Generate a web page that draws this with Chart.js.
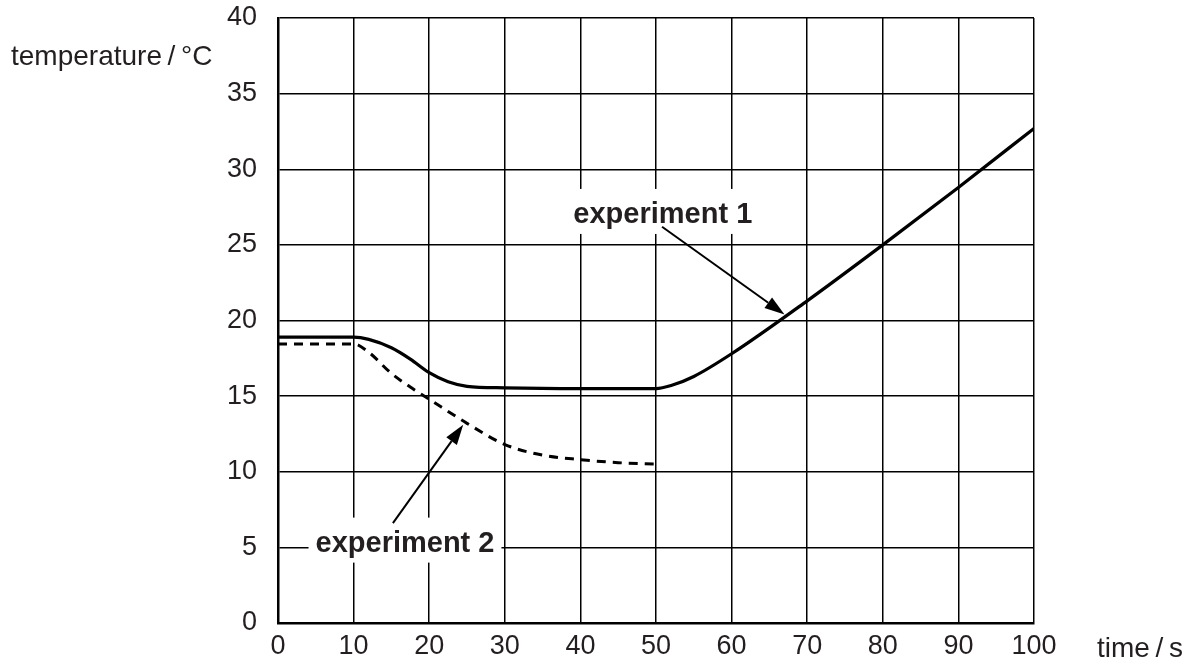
<!DOCTYPE html>
<html>
<head>
<meta charset="utf-8">
<script src="https://cdn.jsdelivr.net/npm/chart.js@4/dist/chart.umd.min.js"></script>
<style>
  html, body { margin: 0; padding: 0; background: #fff; }
  #wrap { width: 1191px; height: 663px; }
</style>
</head>
<body>
<div id="wrap"><canvas id="chart"></canvas></div>
<script>
// time / s
const exp1Time = [0, 10, 12, 15, 17.5, 20, 22.5, 25, 30, 40, 50, 52, 55, 60, 70, 80, 90, 100];
const exp1Temp = [18.9, 18.9, 18.75, 18.2, 17.45, 16.55, 15.95, 15.65, 15.55, 15.5, 15.5, 15.7, 16.3, 17.8, 21.3, 25.0, 28.8, 32.7];
const exp2Time = [0, 10, 12, 15, 17.5, 20, 25, 30, 35, 40, 45, 50];
const exp2Temp = [18.45, 18.45, 17.9, 16.5, 15.6, 14.8, 13.2, 11.8, 11.1, 10.8, 10.6, 10.5];
const xTicks = [0, 10, 20, 30, 40, 50, 60, 70, 80, 90, 100];
const yTicks = [0, 5, 10, 15, 20, 25, 30, 35, 40];

// labels with arrows, in data units: text centre/baseline, arrow start, arrow tip
const notes = [
    { text: "experiment 1", at: [50.9, 26.45], from: [50.8, 26.2], to: [67.0, 20.4] },
    { text: "experiment 2", at: [16.8, 4.72], from: [15.2, 6.6], to: [24.5, 13.1] }
];

const FONT = "'Liberation Sans', Arial, Helvetica, sans-serif";

const toPts = (xs, ys) => xs.map((x, i) => ({ x, y: ys[i] }));

const notesPlugin = {
    id: 'notes',
    afterDatasetsDraw(chart) {
        const ctx = chart.ctx;
        const sx = chart.scales.x, sy = chart.scales.y;
        ctx.save();
        ctx.font = "bold 29px " + FONT;
        ctx.textAlign = "center";
        ctx.textBaseline = "alphabetic";
        notes.forEach(n => {
            const cx = sx.getPixelForValue(n.at[0]);
            const by0 = sy.getPixelForValue(n.at[1]);
            const w = ctx.measureText(n.text).width;
            ctx.fillStyle = "#fff";
            ctx.fillRect(cx - w / 2 - 7, by0 - 34, w + 14, 45);
            ctx.fillStyle = "#231f20";
            ctx.fillText(n.text, cx, by0);

            const x1 = sx.getPixelForValue(n.from[0]), y1 = sy.getPixelForValue(n.from[1]);
            const x2 = sx.getPixelForValue(n.to[0]), y2 = sy.getPixelForValue(n.to[1]);
            const ang = Math.atan2(y2 - y1, x2 - x1);
            const head = 20, half = 6.5;
            const bx = x2 - head * Math.cos(ang), by = y2 - head * Math.sin(ang);
            ctx.strokeStyle = "#000";
            ctx.lineWidth = 2;
            ctx.beginPath();
            ctx.moveTo(x1, y1);
            ctx.lineTo(bx, by);
            ctx.stroke();
            ctx.fillStyle = "#000";
            ctx.beginPath();
            ctx.moveTo(x2, y2);
            ctx.lineTo(bx + half * Math.sin(ang), by - half * Math.cos(ang));
            ctx.lineTo(bx - half * Math.sin(ang), by + half * Math.cos(ang));
            ctx.closePath();
            ctx.fill();
        });

        // axis titles
        ctx.font = "28px " + FONT;
        ctx.fillStyle = "#231f20";
        ctx.textAlign = "left";
        ctx.fillText("temperature\u2009/\u2009°C", 11, 65);
        ctx.fillText("time\u2009/\u2009s", 1097, 657);
        ctx.restore();
    }
};

new Chart(document.getElementById("chart"), {
    type: 'line',
    data: {
        datasets: [
            { label: 'experiment 1', data: toPts(exp1Time, exp1Temp), borderColor: '#000', borderWidth: 3.2,
              pointRadius: 0, cubicInterpolationMode: 'monotone', fill: false },
            { label: 'experiment 2', data: toPts(exp2Time, exp2Temp), borderColor: '#000', borderWidth: 3,
              borderDash: [9, 7], pointRadius: 0, cubicInterpolationMode: 'monotone', fill: false }
        ]
    },
    options: {
        responsive: true,
        maintainAspectRatio: false,
        animation: false,
        layout: { padding: { top: 18, right: 157, left: 0, bottom: 0 } },
        plugins: { legend: { display: false }, tooltip: { enabled: false } },
        scales: {
            x: {
                type: 'linear', min: 0, max: 100,
                afterBuildTicks: s => { s.ticks = xTicks.map(v => ({ value: v })); },
                afterFit: s => { s.height = 40; s.paddingLeft = 0; s.paddingRight = 0; },
                grid: { color: '#000', lineWidth: 1.5, drawTicks: false },
                border: { color: '#000', width: 2.5 },
                ticks: { color: '#231f20', font: { family: FONT, size: 27 }, padding: 7, maxRotation: 0 }
            },
            y: {
                type: 'linear', min: 0, max: 40,
                afterBuildTicks: s => { s.ticks = yTicks.map(v => ({ value: v })); },
                afterFit: s => { s.width = 278; s.paddingTop = 0; s.paddingBottom = 0; },
                grid: { color: '#000', lineWidth: 1.5, drawTicks: false },
                border: { color: '#000', width: 2.5 },
                ticks: { color: '#231f20', font: { family: FONT, size: 27 }, padding: 21 }
            }
        }
    },
    plugins: [notesPlugin]
});
</script>
</body>
</html>
